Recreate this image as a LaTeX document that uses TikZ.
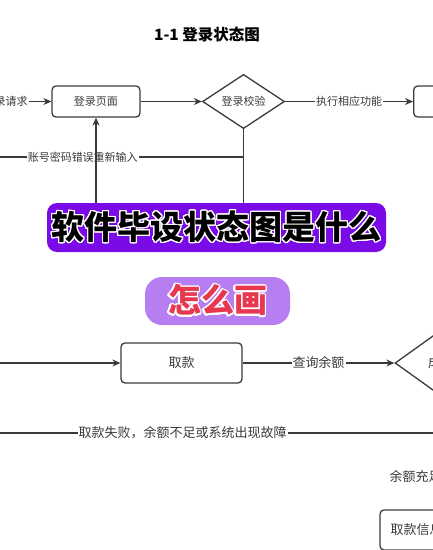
\documentclass[tikz,border=0pt]{standalone}
\usepackage{fontspec}
\setmainfont{Noto Sans CJK SC}
\usepackage{contour}
\usetikzlibrary{shapes.geometric,arrows.meta,positioning}
\definecolor{linegray}{HTML}{3A3A3A}
\definecolor{bannerpurple}{HTML}{7A0AE6}
\definecolor{pillpurple}{HTML}{B77EF2}
\definecolor{howred}{HTML}{E8384F}
\contourlength{1.3pt}
\contournumber{24}
\begin{document}
\begin{tikzpicture}[x=1pt,y=-1pt,>={Stealth[length=8pt,width=7pt]},
    box/.style={draw=linegray,line width=1.3pt,rounded corners=4pt,inner sep=0pt,
        minimum width=88pt,minimum height=31pt,text=linegray,font=\fontsize{11}{13}\selectfont},
    bigbox/.style={box,minimum width=121pt,minimum height=40pt,font=\fontsize{13}{15}\selectfont},
    check/.style={draw=linegray,line width=1.3pt,diamond,inner sep=0pt,text=linegray,
        font=\fontsize{11}{13}\selectfont},
    link/.style={draw=linegray,line width=1.1pt},
    lbl/.style={fill=white,inner sep=1pt,text=linegray,font=\fontsize{11}{13}\selectfont},
    biglbl/.style={lbl,font=\fontsize{13}{15}\selectfont},
    banner/.style={rounded corners=#1,inner sep=0pt,font=\bfseries\fontsize{33}{35}\selectfont}]
    \useasboundingbox (0,0) rectangle (433,550);
    \clip (0,0) rectangle (433,550);
    % title
    \node[font=\bfseries\fontsize{15.5}{17}\selectfont,text=black] (title) at (207,35) {1-1 登录状态图};
    % login states
    \coordinate (reqstart) at (-40,101.5);
    \node[box] (loginpage) at (96,101.5) {登录页面};
    \node[check,minimum width=82pt,minimum height=50pt] (logincheck) at (243.5,101.5) {登录校验};
    \node[box,anchor=west] (funcpage) at (413,101.5) {};
    \coordinate (errjoin) at (243.5,157);
    \coordinate (errend) at (-78,157);
    \coordinate (checkdown) at (243.5,225);
    \coordinate (retry) at (96,225);
    \draw[link,->] (reqstart) -- node[lbl]{登录请求} (loginpage);
    \draw[link,->] (loginpage) -- (logincheck);
    \draw[link,->] (logincheck) -- node[lbl]{执行相应功能} (funcpage);
    \draw[link] (logincheck.south) -- (checkdown);
    \draw[link] (errjoin) -- node[lbl]{账号密码错误重新输入} (errend);
    \draw[link,->] (retry) -- (loginpage.south);
    % withdraw states
    \coordinate (drawstart) at (-60,363);
    \node[bigbox] (withdraw) at (181.5,363) {取款};
    \node[check,minimum width=92pt,minimum height=66pt,text width=26pt,align=left,
        font=\fontsize{13}{15}\selectfont] (balcheck) at (441,363) {成};
    \node[bigbox,text width=100pt,align=left] (cashinfo) at (440.5,530) {取款信息};
    \coordinate (failstart) at (470,433);
    \coordinate (failend) at (-60,433);
    \draw[link,->] (drawstart) -- (withdraw);
    \draw[link,->] (withdraw) -- node[biglbl]{查询余额} (balcheck);
    \draw[link] (failstart) -- node[biglbl,pos=0.542]{取款失败，余额不足或系统出现故障} (failend);
    \draw[link,->] (balcheck.south) -- node[biglbl,pos=0.71,xshift=-25pt]{余额充足} (cashinfo.north);
    % cover banners
    \node[banner=10pt,fill=bannerpurple,minimum width=339pt,minimum height=49pt] (mainbanner)
        at (216.5,227.5) {\contour{white}{软件毕设状态图是什么}};
    \node[banner=17pt,fill=pillpurple,minimum width=145pt,minimum height=48pt,text=howred] (howbanner)
        at (217.5,301) {\contour{white}{怎么画}};
\end{tikzpicture}
\end{document}
